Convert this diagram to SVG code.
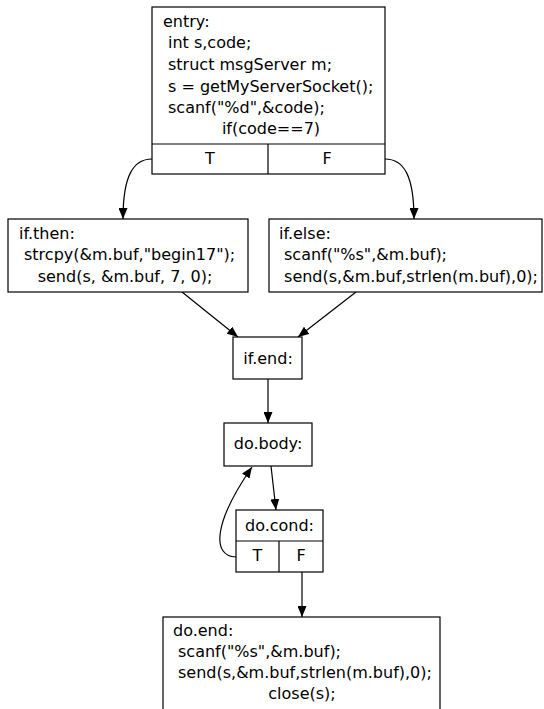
<svg xmlns="http://www.w3.org/2000/svg" width="544" height="709" viewBox="0 0 544 709">
  <defs>
    <style>
      .box { fill: #ffffff; stroke: #000000; stroke-width: 1.2; }
      .sep { fill: none; stroke: #000000; stroke-width: 1.2; }
      .edge { fill: none; stroke: #000000; stroke-width: 1.2; marker-end: url(#arrow); }
      text { font-family: "DejaVu Sans", Verdana, sans-serif; font-size: 16px; fill: #000000; }
      .c { text-anchor: middle; }
    </style>
    <marker id="arrow" markerUnits="userSpaceOnUse" markerWidth="11" markerHeight="9" refX="11" refY="4.5" orient="auto">
      <path d="M0,0 L11,4.5 L0,9 z" fill="#000000"/>
    </marker>
  </defs>
  <rect width="544" height="709" fill="#ffffff"/>

  <!-- control-flow edges -->
  <g id="edges">
    <path class="edge" d="M152,159 C133,159 123,176 123,219"/>
    <path class="edge" d="M385,159 C404,159 414,176 414,219"/>
    <path class="edge" d="M182,292 L238,337"/>
    <path class="edge" d="M356,292 L298,337"/>
    <path class="edge" d="M268,379 L268,423"/>
    <path class="edge" d="M271,466 L276,510"/>
    <path class="edge" d="M236,557 C211,556 214,522 252,467"/>
    <path class="edge" d="M302,572 L302,617"/>
  </g>

  <g id="entry">
    <rect class="box" x="152" y="7" width="233" height="167"/>
    <path class="sep" d="M152,144 H385 M268,144 V174"/>
    <text x="163" y="27">entry:</text>
    <text x="168" y="48">int s,code;</text>
    <text x="168" y="70">struct msgServer m;</text>
    <text x="168" y="92">s = getMyServerSocket();</text>
    <text x="168" y="113">scanf("%d",&amp;code);</text>
    <text class="c" x="271" y="134">if(code==7)</text>
    <text class="c" x="210" y="164">T</text>
    <text class="c" x="327" y="164">F</text>
  </g>

  <g id="if_then">
    <rect class="box" x="8" y="219" width="240" height="73"/>
    <text x="19" y="239">if.then:</text>
    <text x="24" y="260">strcpy(&amp;m.buf,"begin17");</text>
    <text class="c" x="125" y="282">send(s, &amp;m.buf, 7, 0);</text>
  </g>

  <g id="if_else">
    <rect class="box" x="269" y="219" width="273" height="73"/>
    <text x="279" y="239">if.else:</text>
    <text x="284" y="260">scanf("%s",&amp;m.buf);</text>
    <text class="c" x="411" y="282">send(s,&amp;m.buf,strlen(m.buf),0);</text>
  </g>

  <g id="if_end">
    <rect class="box" x="233" y="337" width="69" height="42"/>
    <text class="c" x="268" y="364">if.end:</text>
  </g>

  <g id="do_body">
    <rect class="box" x="224" y="423" width="88" height="43"/>
    <text class="c" x="268" y="449">do.body:</text>
  </g>

  <g id="do_cond">
    <rect class="box" x="236" y="510" width="87" height="62"/>
    <path class="sep" d="M236,541 H323 M279,541 V572"/>
    <text class="c" x="279.5" y="531">do.cond:</text>
    <text class="c" x="257.5" y="561">T</text>
    <text class="c" x="301" y="561">F</text>
  </g>

  <g id="do_end">
    <rect class="box" x="163" y="617" width="277" height="100"/>
    <text x="173" y="636">do.end:</text>
    <text x="178" y="657">scanf("%s",&amp;m.buf);</text>
    <text x="178" y="678">send(s,&amp;m.buf,strlen(m.buf),0);</text>
    <text class="c" x="302" y="699">close(s);</text>
  </g>
</svg>
